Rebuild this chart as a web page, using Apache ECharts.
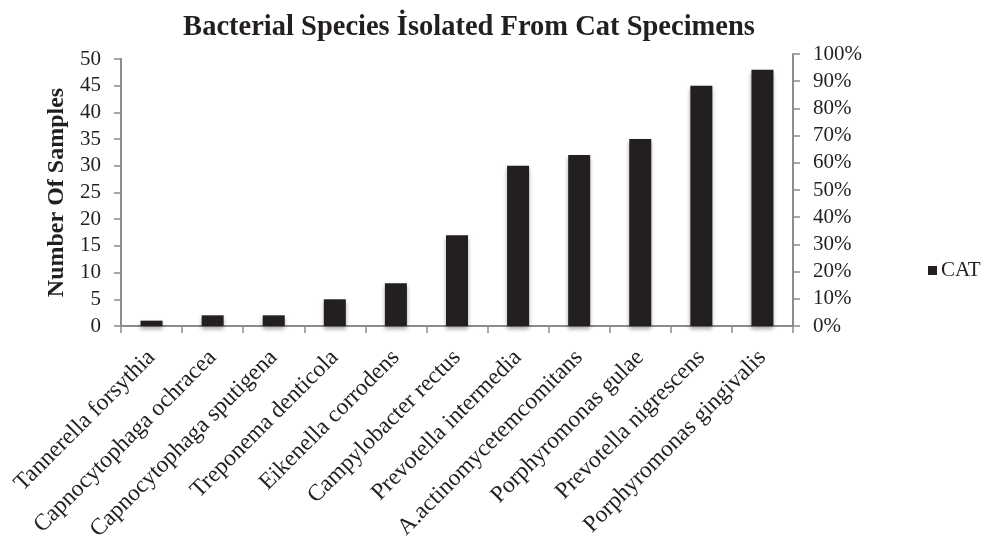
<!DOCTYPE html>
<html>
<head>
<meta charset="utf-8">
<script src="https://cdn.jsdelivr.net/npm/echarts@6/dist/echarts.min.js"></script>
<style>html,body{margin:0;padding:0;background:#fff}#c{width:992px;height:539px}</style>
</head>
<body>
<div id="c"></div>
<script>
const categories = ["Tannerella forsythia","Capnocytophaga ochracea","Capnocytophaga sputigena","Treponema denticola","Eikenella corrodens","Campylobacter rectus","Prevotella intermedia","A.actinomycetemcomitans","Porphyromonas gulae","Prevotella nigrescens","Porphyromonas gingivalis"];
const catValues = [1, 2, 2, 5, 8, 17, 30, 32, 35, 45, 48];
const seriesName = "CAT";
const titleText = "Bacterial Species İsolated From Cat Specimens";
const leftAxisName = "Number Of Samples";

const font = "'Liberation Serif','Times New Roman',serif";
const axisColor = "#8c8c8c";
const chart = echarts.init(document.getElementById('c'), null, {renderer: 'canvas'});
chart.setOption({
  animation: false,
  backgroundColor: '#fff',
  title: {
    text: titleText, left: 464, top: 8, textAlign: 'center',
    textStyle: {fontFamily: font, fontWeight: 'bold', fontSize: 28.5, color: '#231f20'}
  },
  legend: {
    data: [seriesName], left: 923, top: 255, icon: 'rect', itemWidth: 9, itemHeight: 9, itemGap: 5,
    textStyle: {fontFamily: font, fontSize: 21, color: '#231f20', padding: [0,0,0,-1]}
  },
  grid: [
    {left: 121, right: 199, top: 59, bottom: 213, containLabel: false, outerBoundsMode: 'none'},
    {left: 121, right: 199, top: 54, bottom: 213, containLabel: false, outerBoundsMode: 'none'}
  ],
  xAxis: [
    {
      type: 'category', data: categories, gridIndex: 0,
      axisLine: {lineStyle: {color: axisColor, width: 2}},
      axisTick: {show: true, length: 7, lineStyle: {color: axisColor, width: 1.5}},
      axisLabel: {rotate: 45, interval: 0, fontFamily: font, fontSize: 23.5, color: '#231f20', margin: 28}
    },
    {type: 'category', data: categories, gridIndex: 1, show: false}
  ],
  yAxis: [
    {
      type: 'value', gridIndex: 0, min: 0, max: 50, interval: 5,
      name: leftAxisName, nameLocation: 'middle', nameGap: 52,
      nameTextStyle: {fontFamily: font, fontWeight: 'bold', fontSize: 24, color: '#231f20'},
      axisLine: {show: true, lineStyle: {color: axisColor, width: 2}},
      axisTick: {show: true, length: 7, lineStyle: {color: axisColor, width: 1.5}},
      splitLine: {show: false},
      axisLabel: {fontFamily: font, fontSize: 21, color: '#231f20', margin: 20}
    },
    {
      type: 'value', gridIndex: 1, position: 'right', min: 0, max: 1, interval: 0.1,
      axisLine: {show: true, lineStyle: {color: axisColor, width: 2}},
      axisTick: {show: true, length: 7, lineStyle: {color: axisColor, width: 1.5}},
      splitLine: {show: false},
      axisLabel: {fontFamily: font, fontSize: 21, color: '#231f20', margin: 20,
        formatter: v => Math.round(v * 100) + '%'}
    }
  ],
  series: [{
    name: seriesName, type: 'bar', xAxisIndex: 0, yAxisIndex: 0, data: catValues,
    barWidth: 22,
    itemStyle: {color: '#231f20', shadowColor: 'rgba(0,0,0,0.35)', shadowBlur: 4, shadowOffsetY: 3}
  }]
});
</script>
</body>
</html>
